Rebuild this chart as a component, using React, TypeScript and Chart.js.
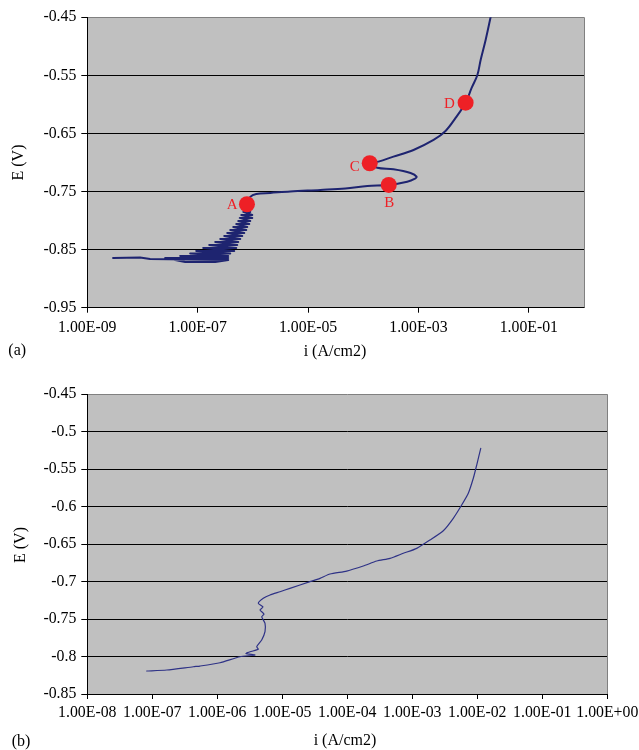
import React, { useEffect, useRef } from "react";
import Chart from "chart.js/auto";

// ---------- Panel (a) data ----------
// cathodic branch (noisy band) up to point A
const A_BAND_CURRENT = [
  2.93e-9, 9.05e-9, 1.374e-8, 3.577e-7, 2.078e-7, 5.93e-8, 2.572e-8, 3.577e-7, 4.813e-8, 3.577e-7,
  7.31e-8, 3.89e-7, 9.39e-8, 4.596e-7, 1.258e-7, 4.997e-7, 1.617e-7, 5.21e-7, 2.078e-7, 5.43e-7,
  2.561e-7, 5.907e-7, 3.027e-7, 6.423e-7, 3.43e-7, 6.983e-7, 3.89e-7, 7.59e-7, 4.41e-7, 7.914e-7,
  4.997e-7, 8.602e-7, 5.43e-7, 8.969e-7, 5.785e-7, 9.75e-7, 6.16e-7, 9.75e-7, 6.697e-7, 8.969e-7,
  7.28e-7, 8.602e-7, 7.81e-7,
];
const A_BAND_POTENTIAL = [
  -0.8643, -0.8634, -0.866, -0.8677, -0.8712, -0.8712, -0.8643, -0.8643, -0.8608, -0.8608,
  -0.8565, -0.8565, -0.8522, -0.8522, -0.8471, -0.8471, -0.8419, -0.8419, -0.8368, -0.8368,
  -0.8316, -0.8316, -0.8264, -0.8264, -0.8213, -0.8213, -0.8161, -0.8161, -0.8109, -0.8109,
  -0.8058, -0.8058, -0.8006, -0.8006, -0.7954, -0.7954, -0.7903, -0.7903, -0.7851, -0.7851,
  -0.78, -0.78, -0.7719,
];
// from point A through the B–C loop to the top
const A_CURRENT = [
  7.81e-7, 8.97e-7, 1.15e-6, 2.07e-6, 4.77e-6, 1.67e-5, 4.75e-5, 1.19e-4, 2.9e-4, 6.26e-4,
  8.49e-4, 9.24e-4, 7.19e-4, 3.53e-4, 1.79e-4, 1.31e-4, 1.89e-4, 3.53e-4, 8.15e-4, 1.88e-3,
  3.1e-3, 4.71e-3, 7.16e-3, 9.2e-3, 1.17e-2, 1.34e-2, 1.65e-2, 2.03e-2,
];
const A_POTENTIAL = [
  -0.7719, -0.7593, -0.7541, -0.7524, -0.7498, -0.7472, -0.7447, -0.7404, -0.7386, -0.733,
  -0.7283, -0.7244, -0.718, -0.7116, -0.7089, -0.7013, -0.6985, -0.6899, -0.6784, -0.6612,
  -0.6457, -0.6233, -0.597, -0.5717, -0.5493, -0.5235, -0.4891, -0.45,
];
const A_MARK_LABELS = ["A", "B", "C", "D"];
const A_MARK_CURRENT = [7.81e-7, 2.9e-4, 1.31e-4, 7.16e-3];
const A_MARK_POTENTIAL = [-0.7719, -0.7386, -0.7013, -0.597];
const A_X_TICKS = [1e-9, 1e-7, 1e-5, 1e-3, 1e-1];
const A_X_LABELS = ["1.00E-09", "1.00E-07", "1.00E-05", "1.00E-03", "1.00E-01"];
const A_Y_TICKS = [-0.95, -0.85, -0.75, -0.65, -0.55, -0.45];
const A_Y_LABELS = ["-0.95", "-0.85", "-0.75", "-0.65", "-0.55", "-0.45"];

// ---------- Panel (b) data ----------
const B_CURRENT = [
  8.2e-8, 1.67e-7, 4.27e-7, 5.42e-7, 1.1e-6, 2.23e-6, 3.8e-6, 2.76e-6, 3.19e-6, 4.27e-6,
  4.04e-6, 4.82e-6, 5.42e-6, 5.42e-6, 4.82e-6, 5.23e-6, 4.54e-6, 5.05e-6, 4.27e-6, 5.1e-6,
  6.47e-6, 9.22e-6, 1.31e-5, 2.67e-5, 3.8e-5, 5.42e-5, 9.79e-5, 1.76e-4, 2.84e-4, 4.54e-4,
  7.27e-4, 1.17e-3, 1.87e-3, 3.0e-3, 4.27e-3, 5.75e-3, 7.27e-3, 8.68e-3, 9.79e-3, 1.13e-2,
];
const B_POTENTIAL = [
  -0.8193, -0.818, -0.8136, -0.8127, -0.8083, -0.8003, -0.798, -0.796, -0.7936, -0.7904,
  -0.7869, -0.778, -0.7669, -0.7557, -0.7469, -0.7433, -0.7379, -0.7339, -0.729, -0.7223,
  -0.7179, -0.7135, -0.709, -0.7001, -0.6956, -0.6899, -0.6859, -0.6792, -0.6725, -0.6689,
  -0.6622, -0.6556, -0.6445, -0.6321, -0.6155, -0.5978, -0.5821, -0.5621, -0.5444, -0.5221,
];
const B_X_TICKS = [1e-8, 1e-7, 1e-6, 1e-5, 1e-4, 1e-3, 1e-2, 1e-1, 1e0];
const B_X_LABELS = [
  "1.00E-08", "1.00E-07", "1.00E-06", "1.00E-05", "1.00E-04", "1.00E-03", "1.00E-02", "1.00E-01", "1.00E+00",
];
const B_Y_TICKS = [-0.85, -0.8, -0.75, -0.7, -0.65, -0.6, -0.55, -0.5, -0.45];
const B_Y_LABELS = ["-0.85", "-0.8", "-0.75", "-0.7", "-0.65", "-0.6", "-0.55", "-0.5", "-0.45"];

const X_TITLE = "i (A/cm2)";
const Y_TITLE = "E (V)";

// ---------- styling ----------
const FONT = '"Liberation Serif", "Times New Roman", serif';
const TICK_SIZE = 15.8;
const TITLE_SIZE = 16;
const MARK_COLOR = "#EE2026";
const PLOT_BG = "#C0C0C0";
const FRAME_GRAY = "#808080";
const MARK_LABEL_OFFSETS: Record<string, [number, number]> = {
  A: [-14.7, 0],
  B: [0.5, 16.7],
  C: [-15, 2.8],
  D: [-16.3, 0],
};

type Curve = { x: number[]; y: number[]; tension: number };

type Panel = {
  curves: Curve[];
  markX?: number[];
  markY?: number[];
  markLabels?: string[];
  xMin: number;
  xMax: number;
  yMin: number;
  yMax: number;
  xTicks: number[];
  xLabels: string[];
  yTicks: number[];
  yLabels: string[];
  width: number;
  height: number;
  area: { left: number; top: number; right: number; bottom: number };
  lineColor: string;
  lineWidth: number;
  xTickPadding: number;
  xTitlePos: [number, number];
  yTitlePos: [number, number];
  tag: string;
  tagPos: [number, number];
};

function buildChart(canvas: HTMLCanvasElement, s: Panel) {
  const datasets: any[] = [];
  if (s.markX && s.markY) {
    datasets.push({
      data: s.markX.map((x, i) => ({ x, y: s.markY![i] })),
      showLine: false,
      pointRadius: 8,
      pointHoverRadius: 8,
      pointBorderWidth: 0,
      pointBackgroundColor: MARK_COLOR,
      backgroundColor: MARK_COLOR,
      borderColor: MARK_COLOR,
    });
  }
  s.curves.forEach((c) => {
    datasets.push({
      data: c.x.map((x, i) => ({ x, y: c.y[i] })),
      showLine: true,
      pointRadius: 0,
      pointHoverRadius: 0,
      borderColor: s.lineColor,
      borderWidth: s.lineWidth,
      borderJoinStyle: "round",
      borderCapStyle: "round",
      tension: c.tension,
      fill: false,
    });
  });

  const plugin = {
    id: "panelDecor",
    beforeDraw(chart: any) {
      const { ctx, chartArea: a } = chart;
      ctx.save();
      ctx.fillStyle = PLOT_BG;
      ctx.fillRect(a.left, a.top, a.right - a.left, a.bottom - a.top);
      ctx.restore();
    },
    afterDatasetsDraw(chart: any) {
      if (!s.markLabels || !s.markX || !s.markY) return;
      const { ctx } = chart;
      const xs = chart.scales.x;
      const ys = chart.scales.y;
      ctx.save();
      ctx.font = `15px ${FONT}`;
      ctx.fillStyle = MARK_COLOR;
      ctx.textAlign = "center";
      ctx.textBaseline = "alphabetic";
      s.markLabels.forEach((lab, i) => {
        const [dx, dy] = MARK_LABEL_OFFSETS[lab];
        const px = xs.getPixelForValue(s.markX![i]) + dx;
        const py = ys.getPixelForValue(s.markY![i]) + dy + 5;
        ctx.fillText(lab, px, py);
      });
      ctx.restore();
    },
    afterDraw(chart: any) {
      const { ctx, chartArea: a } = chart;
      ctx.save();
      ctx.strokeStyle = FRAME_GRAY;
      ctx.lineWidth = 1;
      const rx = Math.round(a.right) + 0.5;
      ctx.beginPath();
      ctx.moveTo(rx, a.top);
      ctx.lineTo(rx, a.bottom);
      ctx.stroke();

      ctx.fillStyle = "#000";
      ctx.font = `${TITLE_SIZE}px ${FONT}`;
      ctx.textAlign = "center";
      ctx.textBaseline = "middle";
      ctx.fillText(X_TITLE, s.xTitlePos[0], s.xTitlePos[1]);
      ctx.save();
      ctx.translate(s.yTitlePos[0], s.yTitlePos[1]);
      ctx.rotate(-Math.PI / 2);
      ctx.fillText(Y_TITLE, 0, 0);
      ctx.restore();
      ctx.textAlign = "left";
      ctx.fillText(s.tag, s.tagPos[0], s.tagPos[1]);
      ctx.restore();
    },
  };

  return new Chart(canvas, {
    type: "scatter",
    data: { datasets },
    options: {
      responsive: false,
      maintainAspectRatio: false,
      animation: false,
      events: [],
      layout: {
        padding: { left: 0, top: s.area.top, right: s.width - s.area.right, bottom: 0 },
      },
      plugins: {
        legend: { display: false },
        tooltip: { enabled: false },
        title: { display: false },
      },
      scales: {
        x: {
          type: "logarithmic",
          min: s.xMin,
          max: s.xMax,
          afterBuildTicks: (sc: any) => {
            sc.ticks = s.xTicks.map((v) => ({ value: v }));
          },
          afterFit: (sc: any) => {
            sc.height = s.height - s.area.bottom;
            sc.paddingLeft = 0;
            sc.paddingRight = 0;
          },
          ticks: {
            autoSkip: false,
            maxRotation: 0,
            minRotation: 0,
            padding: s.xTickPadding,
            color: "#000",
            font: { family: FONT, size: TICK_SIZE },
            callback: (_v: any, i: number) => s.xLabels[i],
          },
          grid: {
            display: true,
            drawOnChartArea: false,
            drawTicks: true,
            tickLength: 5,
            tickColor: "#000",
            tickWidth: 1,
          },
          border: { display: true, color: "#000", width: 1 },
        },
        y: {
          type: "linear",
          min: s.yMin,
          max: s.yMax,
          afterBuildTicks: (sc: any) => {
            sc.ticks = s.yTicks.map((v) => ({ value: v }));
          },
          afterFit: (sc: any) => {
            sc.width = s.area.left;
            sc.paddingTop = 0;
            sc.paddingBottom = 0;
          },
          ticks: {
            autoSkip: false,
            padding: 5,
            color: "#000",
            font: { family: FONT, size: TICK_SIZE },
            callback: (_v: any, i: number) => s.yLabels[i],
          },
          grid: {
            display: true,
            drawOnChartArea: true,
            drawTicks: true,
            tickLength: 6,
            tickColor: "#000",
            lineWidth: 1,
            color: (c: any) =>
              c.tick && Math.abs(c.tick.value - s.yMax) < 1e-9 ? FRAME_GRAY : "#000",
          },
          border: { display: true, color: "#000", width: 1 },
        },
      },
    } as any,
    plugins: [plugin],
  });
}

const PANEL_A: Panel = {
  curves: [
    { x: A_BAND_CURRENT, y: A_BAND_POTENTIAL, tension: 0 },
    { x: A_CURRENT, y: A_POTENTIAL, tension: 0.35 },
  ],
  markX: A_MARK_CURRENT,
  markY: A_MARK_POTENTIAL,
  markLabels: A_MARK_LABELS,
  xMin: 1e-9,
  xMax: 1,
  yMin: -0.95,
  yMax: -0.45,
  xTicks: A_X_TICKS,
  xLabels: A_X_LABELS,
  yTicks: A_Y_TICKS,
  yLabels: A_Y_LABELS,
  width: 639,
  height: 370,
  area: { left: 87.3, top: 17.3, right: 584, bottom: 307.7 },
  lineColor: "#1E2470",
  lineWidth: 2,
  xTickPadding: 6,
  xTitlePos: [335, 351.7],
  yTitlePos: [18.3, 162.5],
  tag: "(a)",
  tagPos: [8.3, 351],
};

const PANEL_B: Panel = {
  curves: [{ x: B_CURRENT, y: B_POTENTIAL, tension: 0.2 }],
  xMin: 1e-8,
  xMax: 1,
  yMin: -0.85,
  yMax: -0.45,
  xTicks: B_X_TICKS,
  xLabels: B_X_LABELS,
  yTicks: B_Y_TICKS,
  yLabels: B_Y_LABELS,
  width: 639,
  height: 380,
  area: { left: 87.3, top: 24.3, right: 607.3, bottom: 324 },
  lineColor: "#2E3286",
  lineWidth: 1.2,
  xTickPadding: 4.5,
  xTitlePos: [345, 370.8],
  yTitlePos: [20.8, 175],
  tag: "(b)",
  tagPos: [11.7, 371.5],
};

function PanelCanvas({ spec, top }: { spec: Panel; top: number }) {
  const ref = useRef<HTMLCanvasElement | null>(null);
  useEffect(() => {
    if (!ref.current) return;
    const chart = buildChart(ref.current, spec);
    return () => chart.destroy();
  }, [spec]);
  return (
    <canvas
      ref={ref}
      width={spec.width}
      height={spec.height}
      style={{
        position: "absolute",
        left: 0,
        top,
        width: spec.width,
        height: spec.height,
        display: "block",
      }}
    />
  );
}

export default function App() {
  return (
    <div
      style={{
        position: "absolute",
        left: 0,
        top: 0,
        width: 639,
        height: 750,
        background: "#fff",
        overflow: "hidden",
      }}
    >
      <PanelCanvas spec={PANEL_A} top={0} />
      <PanelCanvas spec={PANEL_B} top={370} />
    </div>
  );
}
